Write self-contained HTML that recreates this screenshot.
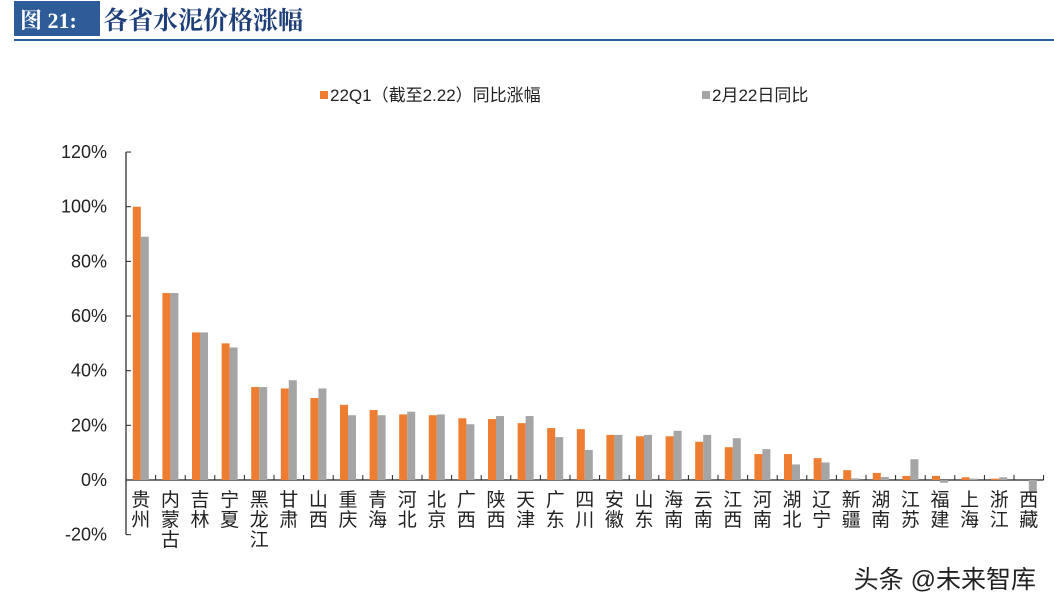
<!DOCTYPE html>
<html><head><meta charset="utf-8"><style>
body{margin:0;background:#fff;width:1054px;height:610px;overflow:hidden;font-family:"Liberation Sans","Noto Sans CJK SC",sans-serif}
svg text{font-family:"Liberation Sans","Noto Sans CJK SC",sans-serif}
</style></head><body>
<svg id="c" width="1054" height="610">
<rect x="14" y="1" width="86" height="35" fill="#2e5c99"/>
<text x="20" y="28" font-size="22" font-weight="bold" fill="#fff" style="font-family:'Liberation Serif','Noto Serif CJK SC',serif">图 21:</text>
<text x="103" y="29" font-size="25" font-weight="bold" fill="#1f3f7a" style="font-family:'Liberation Serif','Noto Serif CJK SC',serif">各省水泥价格涨幅</text>
<rect x="14" y="39" width="1040" height="2" fill="#2e5c99"/>
<rect x="320" y="91" width="8" height="8" fill="#ed7d31"/>
<text x="330" y="101" font-size="17" fill="#222">22Q1（截至2.22）同比涨幅</text>
<rect x="702" y="91" width="8" height="8" fill="#a5a5a5"/>
<text x="712" y="101" font-size="17" fill="#222">2月22日同比</text>
<g id="plot"></g>
<text x="1036" y="588" font-size="25" fill="#222" text-anchor="end">头条 @未来智库</text>
</svg>
<script>
const categories=["贵州","内蒙古","吉林","宁夏","黑龙江","甘肃","山西","重庆","青海","河北","北京","广西","陕西","天津","广东","四川","安徽","山东","海南","云南","江西","河南","湖北","辽宁","新疆","湖南","江苏","福建","上海","浙江","西藏"];
const q1Values=[100,68.4,54,50,34,33.5,30,27.5,25.6,24,23.7,22.6,22.3,20.8,19,18.6,16.5,16,16,14,12,9.5,9.5,8,3.6,2.6,1.5,1.5,1,0.5,0];
const feb22Values=[89,68.4,54,48.5,34,36.5,33.5,23.7,23.7,25,24,20.4,23.4,23.4,15.7,11,16.5,16.5,18,16.5,15.3,11.3,5.7,6.4,0.6,1.1,7.6,-1,0.5,1,-4.5];
const yTicks=[-20,0,20,40,60,80,100,120];
const NS="http://www.w3.org/2000/svg",g=document.getElementById("plot");
const x0=126,cw=29.6,y0=480,ppu=2.733;
const Y=v=>y0-v*ppu,X=i=>x0+i*cw;
function mk(t,a){const e=document.createElementNS(NS,t);for(const k in a)e.setAttribute(k,a[k]);g.appendChild(e);return e;}
let e=mk("line",{x1:x0,y1:Y(120),x2:x0,y2:Y(-20),stroke:"#222","stroke-width":1.2});


yTicks.forEach(t=>{
 let l=mk("line",{x1:x0,y1:Y(t),x2:x0+5,y2:Y(t),stroke:"#222"});
 
 
 let tx=mk("text",{x:107,y:Y(t)+6,"font-size":18,"text-anchor":"end",fill:"#222"});
 tx.textContent=t+"%";
 
 
});
e=mk("line",{x1:x0,y1:y0,x2:X(categories.length),y2:y0,stroke:"#222","stroke-width":1.2});


categories.forEach((c,i)=>{
 let tk=mk("line",{x1:X(i+1),y1:y0,x2:X(i+1),y2:y0-5,stroke:"#222"});
 
 
 const cx=X(i)+cw/2;
 const a=q1Values[i],b=feb22Values[i];
 let r1=mk("rect",{x:cx-8,y:Math.min(Y(a),y0),width:8,height:Math.abs(Y(a)-y0),fill:"#ed7d31"});
 
 
 let r2=mk("rect",{x:cx,y:Math.min(Y(b),y0),width:8,height:Math.abs(Y(b)-y0),fill:"#a5a5a5"});
 
 
 [...c].forEach((ch,k)=>{
  let t=mk("text",{x:cx,y:506+k*20,"font-size":19,"text-anchor":"middle",fill:"#222"});
  t.textContent=ch;
  
  
 });
});
</script>
</body></html>
